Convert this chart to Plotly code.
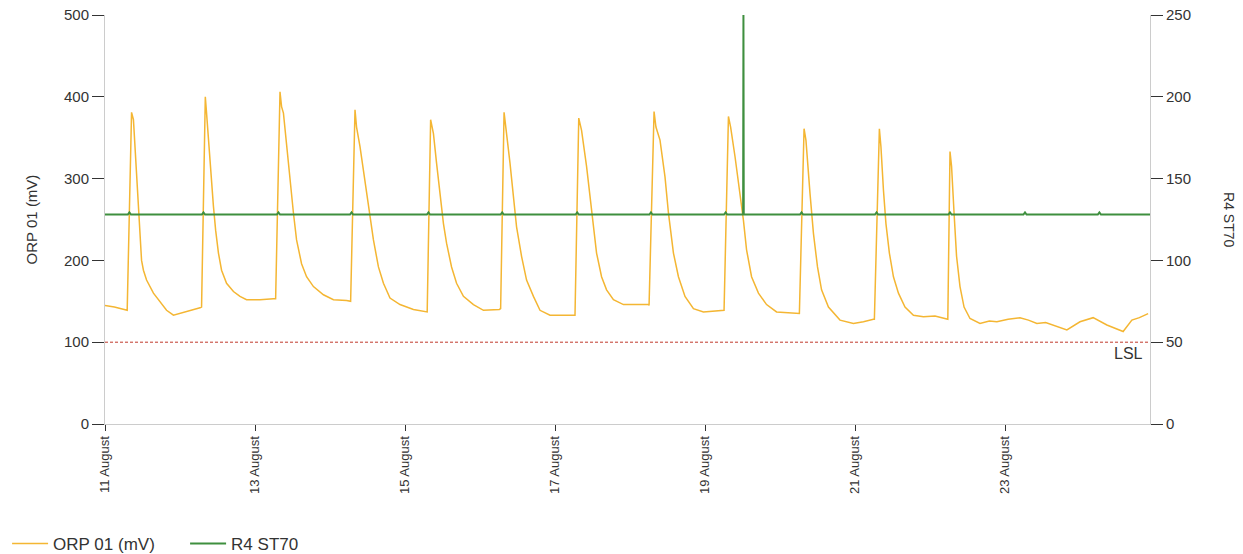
import pandas as pd
import plotly.graph_objects as go

START = pd.Timestamp("2023-08-11 00:00")
END_HOURS = 334.4

# ORP 01 (mV): hours since 11 August 00:00, and values
orp_hours = [
    # 11 Aug
    0.0, 3.0, 7.1,
    8.5, 9.1, 9.6, 10.1, 10.7, 11.2, 11.7, 12.3, 13.3, 15.5, 17.6, 19.7, 21.9, 24.0, 27.2, 30.4, 30.9,
    # 12 Aug
    32.1, 32.5, 33.6, 34.7, 35.4, 36.3, 37.3, 38.9, 41.1, 43.2, 45.3, 49.6, 53.9, 54.6,
    # 13 Aug
    56.0, 56.5, 57.1, 58.1, 59.2, 60.3, 61.3, 62.9, 64.5, 66.7, 69.9, 73.1, 77.3, 78.6,
    # 14 Aug
    80.0, 80.5, 81.6, 83.2, 84.6, 85.9, 87.5, 89.1, 91.2, 94.4, 98.7, 102.7, 103.1,
    # 15 Aug
    104.2, 105.1, 106.1, 107.2, 108.3, 109.3, 110.9, 112.5, 114.7, 117.9, 121.1, 126.2, 126.6,
    # 16 Aug
    127.7, 128.3, 129.6, 130.7, 131.7, 133.3, 134.9, 137.1, 139.2, 142.4, 149.9, 150.4,
    # 17 Aug
    151.6, 152.5, 154.1, 155.7, 157.3, 158.9, 160.5, 162.7, 165.9, 170.0, 173.9, 174.1,
    # 18 Aug
    175.7, 176.3, 177.6, 179.2, 180.3, 181.9, 183.5, 185.6, 188.3, 191.5, 197.9, 198.1,
    # 19 Aug
    199.5, 200.2, 201.6, 203.2, 204.3, 205.3, 206.9, 209.1, 211.7, 214.9, 218.5, 221.9, 222.2,
    # 20 Aug
    223.7, 224.3, 225.6, 226.7, 228.0, 229.3, 231.5, 234.1, 235.2, 239.5, 242.7, 245.9, 246.2,
    # 21 Aug
    247.8, 248.3, 249.1, 249.9, 251.0, 252.3, 253.9, 256.0, 258.7, 261.9, 265.6, 269.3, 269.7,
    # 22 Aug
    270.4, 270.9, 271.7, 272.5, 273.6, 274.9, 276.8, 280.0, 283.0, 285.4, 289.0, 292.8, 295.5, 298.2,
    # 23-24 Aug
    301.0, 303.4, 307.8, 312.0, 316.2, 320.6, 325.8, 328.6, 331.0, 333.8,
]
orp_values = [
    145, 143, 139,
    381, 372, 339, 298, 258, 225, 200, 188, 176, 160, 150, 139, 133, 135, 139, 142, 143,
    400, 380, 319, 266, 237, 209, 188, 172, 162, 156, 152, 152, 153, 153,
    406, 388, 380, 339, 298, 258, 225, 196, 180, 168, 158, 152, 151, 150,
    384, 363, 339, 298, 258, 225, 192, 172, 154, 146, 140, 137, 137,
    372, 355, 319, 278, 245, 221, 192, 172, 156, 146, 139, 140, 141,
    381, 363, 319, 278, 241, 205, 176, 156, 139, 133, 133, 133,
    374, 359, 315, 258, 209, 180, 164, 152, 146, 146, 146, 145,
    382, 363, 347, 302, 258, 209, 180, 156, 141, 137, 139, 139,
    376, 363, 327, 282, 249, 213, 180, 160, 146, 137, 136, 135, 135,
    361, 347, 282, 233, 192, 164, 143, 131, 127, 123, 125, 128, 128,
    361, 339, 286, 245, 209, 180, 160, 143, 133, 131, 132, 128, 128,
    333, 315, 258, 205, 168, 143, 129, 123, 126, 125, 128, 130, 127, 123,
    124, 121, 115, 125, 130, 121, 113, 127, 130, 135,
]

# R4 ST70: hours since 11 August 00:00, and values
st70_hours = [
    0.0,
    7.3, 7.8, 8.3,
    31.0, 31.5, 32.0,
    55.0, 55.5, 56.0,
    78.4, 78.9, 79.4,
    103.0, 103.5, 104.0,
    126.6, 127.1, 127.6,
    150.6, 151.1, 151.6,
    174.2, 174.7, 175.2,
    198.1, 198.6, 199.1,
    204.2, 204.3, 204.4,
    222.4, 222.9, 223.4,
    246.4, 246.9, 247.4,
    269.9, 270.4, 270.9,
    293.9, 294.4, 294.9,
    317.7, 318.2, 318.7,
    334.4,
]
st70_values = [
    128,
    128, 129.3, 128,
    128, 129.3, 128,
    128, 129.3, 128,
    128, 129.3, 128,
    128, 129.3, 128,
    128, 129.3, 128,
    128, 129.3, 128,
    128, 129.3, 128,
    128, 129.3, 128,
    128, 250, 128,
    128, 129.3, 128,
    128, 129.3, 128,
    128, 129.3, 128,
    128, 129.3, 128,
    128, 129.3, 128,
    128,
]

LSL_VALUE = 100
x_tick_days = [11, 13, 15, 17, 19, 21, 23]

orp_x = START + pd.to_timedelta(orp_hours, unit="h")
st70_x = START + pd.to_timedelta(st70_hours, unit="h")
x_end = START + pd.to_timedelta(END_HOURS, unit="h")
tick_vals = [pd.Timestamp(2023, 8, d) for d in x_tick_days]
tick_text = [f"{d} August" for d in x_tick_days]

FONT = "Liberation Sans, Arial, sans-serif"
TEXT = "#333333"
ORANGE = "#F4B633"
GREEN = "#3F8F3F"

fig = go.Figure()
fig.add_trace(go.Scatter(
    x=orp_x, y=orp_values, mode="lines", name="ORP 01 (mV)",
    line=dict(color=ORANGE, width=1.5), yaxis="y",
))
fig.add_trace(go.Scatter(
    x=st70_x, y=st70_values, mode="lines", name="R4 ST70",
    line=dict(color=GREEN, width=2), yaxis="y2",
))

fig.add_shape(
    type="line", xref="paper", x0=0, x1=1, yref="y", y0=LSL_VALUE, y1=LSL_VALUE,
    line=dict(color="#C0392B", width=1, dash="3px,2px"),
)
fig.add_annotation(
    xref="paper", x=0.995, yref="y", y=LSL_VALUE, text="LSL", showarrow=False,
    xanchor="right", yanchor="top", yshift=-1,
    font=dict(family=FONT, size=16, color=TEXT),
)
fig.add_annotation(
    xref="paper", x=1.076, yref="paper", y=0.5, text="R4 ST70", showarrow=False,
    textangle=90, xanchor="center", yanchor="middle",
    font=dict(family=FONT, size=14, color=TEXT),
)

x_tick_font = dict(family=FONT, size=13, color=TEXT)
y_tick_font = dict(family=FONT, size=15, color=TEXT)
fig.update_layout(
    width=1243, height=554,
    margin=dict(l=105, r=93, t=15, b=130, autoexpand=False),
    paper_bgcolor="white", plot_bgcolor="white",
    font=dict(family=FONT, size=13, color=TEXT),
    showlegend=True,
    legend=dict(
        orientation="h", x=-0.0937, xanchor="left", y=-0.293, yanchor="middle",
        font=dict(family=FONT, size=17, color=TEXT),
        itemwidth=36, entrywidth=127, entrywidthmode="pixels", bgcolor="rgba(0,0,0,0)",
    ),
    xaxis=dict(
        range=[START, x_end], tickvals=tick_vals, ticktext=tick_text,
        tickangle=-90, ticks="outside", ticklen=6, tickcolor=TEXT,
        showgrid=False, showline=True, linecolor="#CCCCCC", linewidth=1,
        zeroline=False, tickfont=x_tick_font, ticklabeloverflow="allow",
    ),
    yaxis=dict(
        range=[0, 500], tickvals=[0, 100, 200, 300, 400, 500],
        ticks="outside", ticklen=12, tickcolor=TEXT,
        showgrid=False, showline=True, linecolor="#CCCCCC", linewidth=1,
        zeroline=False, tickfont=y_tick_font, ticklabeloverflow="allow",
        title=dict(text="ORP 01 (mV)", font=dict(family=FONT, size=15, color=TEXT), standoff=22),
    ),
    yaxis2=dict(
        range=[0, 250], tickvals=[0, 50, 100, 150, 200, 250],
        overlaying="y", side="right",
        ticks="outside", ticklen=12, tickcolor=TEXT,
        showgrid=False, showline=True, linecolor="#CCCCCC", linewidth=1,
        zeroline=False, tickfont=y_tick_font, ticklabeloverflow="allow",
    ),
)

fig.write_html("out.html", config={"displayModeBar": False})

# Remove the browser's default 8px body margin so the figure fills the window exactly.
with open("out.html", "r", encoding="utf-8") as f:
    html = f.read()
html = html.replace("<head>", "<head><style>html,body{margin:0;padding:0;overflow:hidden;}</style>", 1)
with open("out.html", "w", encoding="utf-8") as f:
    f.write(html)
